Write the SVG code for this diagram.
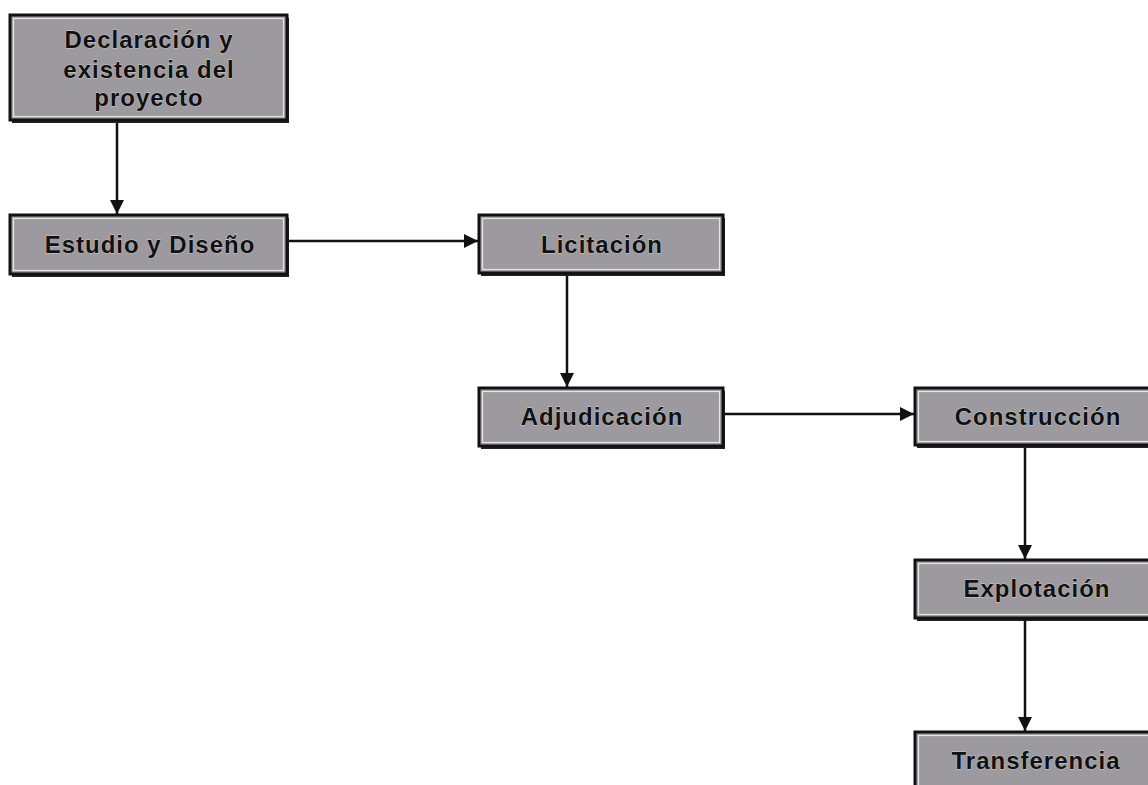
<svg xmlns="http://www.w3.org/2000/svg" width="1148" height="785" viewBox="0 0 1148 785">
  <style>
    .frame { fill: #9c9a9f; stroke: #111; stroke-width: 3; }
    .inner { fill: none; stroke: #e6e6e6; stroke-width: 1.2; }
    .shadow { fill: #222; }
    .label { font-family: "Liberation Sans", Arial, sans-serif; font-weight: bold; font-size: 24px; letter-spacing: 1px; fill: #111; text-anchor: middle; stroke: #cfcfcf; stroke-width: 0.8px; paint-order: stroke; }
    .link { stroke: #111; stroke-width: 2.5; fill: none; }
  </style>
  <defs>
    <marker id="arrow" viewBox="0 0 14 14" refX="14" refY="7" markerWidth="14" markerHeight="14" markerUnits="userSpaceOnUse" orient="auto">
      <path d="M0,0 L14,7 L0,14 Z" fill="#111"/>
    </marker>
  </defs>
  <rect width="1148" height="785" fill="#ffffff"/>

  <!-- connectors -->
  <g id="connectors">
    <line class="link" x1="117" y1="121" x2="117" y2="214" marker-end="url(#arrow)"/>
    <line class="link" x1="288" y1="241" x2="478" y2="241" marker-end="url(#arrow)"/>
    <line class="link" x1="567" y1="274" x2="567" y2="387" marker-end="url(#arrow)"/>
    <line class="link" x1="724" y1="414" x2="914" y2="414" marker-end="url(#arrow)"/>
    <line class="link" x1="1025" y1="446" x2="1025" y2="559" marker-end="url(#arrow)"/>
    <line class="link" x1="1025" y1="619" x2="1025" y2="731" marker-end="url(#arrow)"/>
  </g>

  <g id="declaracion">
    <rect class="shadow" x="12" y="18" width="277" height="105"/>
    <rect class="frame" x="10" y="15" width="277" height="105"/>
    <rect class="inner" x="13.5" y="18.5" width="270" height="98"/>
    <text class="label" x="149" y="48">Declaración y</text>
    <text class="label" x="149" y="78">existencia del</text>
    <text class="label" x="149" y="106">proyecto</text>
  </g>

  <g id="estudio">
    <rect class="shadow" x="12" y="218" width="277" height="59"/>
    <rect class="frame" x="10" y="215" width="277" height="59"/>
    <rect class="inner" x="13.5" y="218.5" width="270" height="52"/>
    <text class="label" x="150" y="253">Estudio y Diseño</text>
  </g>

  <g id="licitacion">
    <rect class="shadow" x="481" y="218" width="244" height="58"/>
    <rect class="frame" x="479" y="215" width="244" height="58"/>
    <rect class="inner" x="482.5" y="218.5" width="237" height="51"/>
    <text class="label" x="602" y="253">Licitación</text>
  </g>

  <g id="adjudicacion">
    <rect class="shadow" x="481" y="391" width="244" height="58"/>
    <rect class="frame" x="479" y="388" width="244" height="58"/>
    <rect class="inner" x="482.5" y="391.5" width="237" height="51"/>
    <text class="label" x="602" y="425">Adjudicación</text>
  </g>

  <g id="construccion">
    <rect class="shadow" x="917" y="391" width="244" height="57"/>
    <rect class="frame" x="915" y="388" width="244" height="57"/>
    <rect class="inner" x="918.5" y="391.5" width="237" height="50"/>
    <text class="label" x="1038" y="425">Construcción</text>
  </g>

  <g id="explotacion">
    <rect class="shadow" x="917" y="563" width="244" height="58"/>
    <rect class="frame" x="915" y="560" width="244" height="58"/>
    <rect class="inner" x="918.5" y="563.5" width="237" height="51"/>
    <text class="label" x="1037" y="597">Explotación</text>
  </g>

  <g id="transferencia">
    <rect class="shadow" x="917" y="735" width="244" height="58"/>
    <rect class="frame" x="915" y="732" width="244" height="58"/>
    <rect class="inner" x="918.5" y="735.5" width="237" height="51"/>
    <text class="label" x="1036" y="769">Transferencia</text>
  </g>
</svg>
